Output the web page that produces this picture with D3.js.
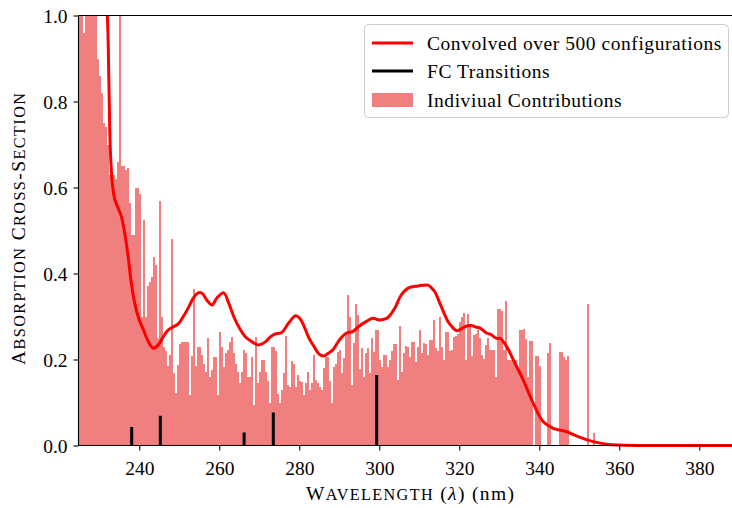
<!DOCTYPE html>
<html>
<head>
<meta charset="utf-8">
<script src="https://cdn.jsdelivr.net/npm/d3@7"></script>
<style>
  html, body { margin: 0; padding: 0; background: #fff; }
  svg { display: block; }
  text { font-family: "Liberation Serif", "DejaVu Serif", serif; fill: #000; }
</style>
</head>
<body>
<svg id="chart" width="732" height="508"></svg>
<script>
// Individual stick contributions, one per 0.5 nm bin starting at 225 nm
const barStart = 225.0;
const barStep = 0.5;
const barValues = [
  1.05, 1.05, 0.96, 1.05, 1.05, 1.05, 1.05, 1.05, 1.05, 0.90,   // 225.0 - 229.5
  0.86, 0.82, 0.75, 0.74, 0.70, 0.63, 0.63, 0.63, 0.62, 0.66,   // 230.0 - 234.5
  1.05, 0.65, 0.65, 0.64, 0.645, 0.565, 0.49, 0.49, 0.60, 0.60, // 235.0 - 239.5
  0.585, 0.30, 0.524, 0.30, 0.372, 0.38, 0.393, 0.439, 0.42, 0.25, // 240.0 - 244.5
  0.568, 0.30, 0.23, 0.22, 0.184, 0.21, 0.48, 0.168, 0.121, 0.187, // 245.0 - 249.5
  0.236, 0.24, 0.241, 0.241, 0.24, 0.117, 0.207, 0.363, 0.184, 0.23, // 250.0 - 254.5
  0.23, 0.21, 0.19, 0.17, 0.249, 0.16, 0.176, 0.206, 0.206, 0.118,  // 255.0 - 259.5
  0.263, 0.23, 0.183, 0.214, 0.222, 0.24, 0.252, 0.214, 0.19, 0.172, // 260.0 - 264.5
  0.145, 0.172, 0.222, 0.214, 0.16, 0.16, 0.205, 0.094, 0.253, 0.145, // 265.0 - 269.5
  0.172, 0.20, 0.20, 0.17, 0.15, 0.10, 0.23, 0.23, 0.22, 0.12,      // 270.0 - 274.5
  0.10, 0.13, 0.168, 0.255, 0.14, 0.137, 0.197, 0.19, 0.137, 0.164, // 275.0 - 279.5
  0.149, 0.148, 0.118, 0.145, 0.172, 0.129, 0.145, 0.21, 0.152, 0.145, // 280.0 - 284.5
  0.137, 0.13, 0.18, 0.206, 0.206, 0.15, 0.10, 0.183, 0.19, 0.218,  // 285.0 - 289.5
  0.222, 0.168, 0.203, 0.261, 0.35, 0.30, 0.14, 0.238, 0.33, 0.303, // 290.0 - 294.5
  0.177, 0.226, 0.16, 0.214, 0.226, 0.168, 0.25, 0.218, 0.268, 0.268, // 295.0 - 299.5
  0.20, 0.183, 0.21, 0.21, 0.183, 0.20, 0.22, 0.236, 0.236, 0.152,  // 300.0 - 304.5
  0.278, 0.17, 0.214, 0.231, 0.23, 0.206, 0.24, 0.24, 0.195, 0.23,  // 305.0 - 309.5
  0.268, 0.214, 0.239, 0.236, 0.21, 0.245, 0.245, 0.292, 0.226, 0.22, // 310.0 - 314.5
  0.30, 0.23, 0.20, 0.263, 0.263, 0.22, 0.222, 0.253, 0.255, 0.26,  // 315.0 - 319.5
  0.288, 0.30, 0.309, 0.20, 0.306, 0.283, 0.207, 0.257, 0.26, 0.268, // 320.0 - 324.5
  0.25, 0.21, 0.202, 0.234, 0.25, 0.222, 0.222, 0.222, 0.16, 0.317, // 325.0 - 329.5
  0.317, 0.313, 0.222, 0.335, 0.20, 0.20, 0.20, 0.20, 0.20, 0.18,   // 330.0 - 334.5
  0.268, 0.268, 0.272, 0.247, 0.16, 0.244, 0.244, 0, 0.208, 0.208,  // 335.0 - 339.5
  0.185, 0, 0, 0, 0.216, 0.238, 0, 0, 0, 0,                         // 340.0 - 344.5
  0.217, 0.217, 0.206, 0.20, 0.207, 0, 0, 0, 0, 0,                  // 345.0 - 349.5
  0, 0, 0, 0, 0.33, 0, 0, 0.029                                     // 350.0 - 353.5
];

// Convolved spectrum
const curveNm = [
  231.4, 232.0, 232.4, 232.75, 233.25, 233.85, 234.7, 235.5, 236.35, 237.2,
  238.0, 238.85, 239.7, 240.5, 241.0, 241.85, 242.7, 243.5, 244.75, 246.0,
  247.25, 248.5, 249.75, 251.0, 252.25, 253.5, 254.75, 255.7, 256.9, 258.2,
  259.4, 261.1, 262.35, 263.6, 264.85, 266.5, 268.2, 269.8, 271.5, 272.7,
  273.9, 275.6, 277.2, 279.05, 280.2, 281.2, 282.4, 283.7, 284.9, 286.05,
  287.2, 288.35, 290.0, 291.7, 293.35, 295.0, 296.7, 298.35, 300.0, 301.7,
  302.7, 303.85, 305.5, 307.2, 309.7, 312.2, 313.1, 313.85, 315.5, 317.2,
  318.2, 319.35, 321.85, 322.9, 324.35, 325.2, 326.85, 327.7, 329.35, 330.2,
  331.85, 333.5, 336.0, 338.5, 341.0, 343.5, 346.85, 350.2, 353.5, 356.85,
  360.2, 365.0, 370.0, 380.0, 390.0
];
const curveVal = [
  1.06, 1.0, 0.844, 0.69, 0.61, 0.573, 0.552, 0.533, 0.494, 0.44,
  0.378, 0.331, 0.30, 0.28, 0.27, 0.25, 0.234, 0.226, 0.234, 0.253,
  0.269, 0.276, 0.283, 0.30, 0.32, 0.343, 0.355, 0.354, 0.338, 0.327,
  0.343, 0.355, 0.331, 0.30, 0.276, 0.253, 0.241, 0.234, 0.241, 0.252,
  0.259, 0.263, 0.283, 0.302, 0.295, 0.277, 0.25, 0.23, 0.213, 0.208,
  0.214, 0.222, 0.245, 0.261, 0.265, 0.278, 0.288, 0.296, 0.292, 0.295,
  0.303, 0.319, 0.35, 0.366, 0.371, 0.373, 0.366, 0.358, 0.323, 0.288,
  0.276, 0.267, 0.278, 0.279, 0.275, 0.273, 0.261, 0.259, 0.249, 0.249,
  0.23, 0.199, 0.152, 0.098, 0.055, 0.04, 0.032, 0.019, 0.009, 0.003,
  0.001, 0.0, 0.0, 0.0, 0.0
];

// Franck-Condon transitions
const fcNm = [238.1, 245.25, 266.2, 273.5, 299.35];
const fcVal = [0.043, 0.069, 0.030, 0.077, 0.164];

const xTicks = [240, 260, 280, 300, 320, 340, 360, 380];
const yTicks = [0.0, 0.2, 0.4, 0.6, 0.8, 1.0];

const svg = d3.select("#chart");
const plotLeft = 78.5, plotTop = 15.5, plotBottom = 445.5;
const x = d3.scaleLinear().domain([224.8, 390]).range([plotLeft, plotLeft + (390 - 224.8) * 4]);
const y = d3.scaleLinear().domain([0, 1]).range([plotBottom, plotTop]);

svg.append("defs").append("clipPath").attr("id", "plotClip")
  .append("rect").attr("x", plotLeft).attr("y", plotTop)
  .attr("width", 732 - plotLeft).attr("height", plotBottom - plotTop + 10);

const plot = svg.append("g").attr("clip-path", "url(#plotClip)");

// stick contributions
plot.append("g").selectAll("rect")
  .data(barValues.map((v, i) => ({ nm: barStart + i * barStep, v })).filter(d => d.v > 0))
  .join("rect")
  .attr("x", d => x(d.nm))
  .attr("width", d => x(d.nm + barStep) - x(d.nm))
  .attr("y", d => y(d.v))
  .attr("height", d => y(0) - y(d.v))
  .attr("fill", "#f08080")
  .attr("shape-rendering", "crispEdges");

// FC transitions
plot.append("g").selectAll("line")
  .data(fcNm.map((n, i) => ({ n, v: fcVal[i] })))
  .join("line")
  .attr("x1", d => x(d.n)).attr("x2", d => x(d.n))
  .attr("y1", y(0)).attr("y2", d => y(d.v))
  .attr("stroke", "#000").attr("stroke-width", 3);

// axes
const xAxis = d3.axisBottom(x).tickValues(xTicks).tickSize(5).tickPadding(6).tickFormat(d3.format("d"));
const yAxis = d3.axisLeft(y).tickValues(yTicks).tickSize(5).tickPadding(6).tickFormat(d3.format(".1f"));

const gx = svg.append("g").attr("transform", `translate(0,${plotBottom})`).call(xAxis);
const gy = svg.append("g").attr("transform", `translate(${plotLeft},0)`).call(yAxis);
[gx, gy].forEach(g => {
  g.attr("font-family", null);
  g.select(".domain").remove();
  g.selectAll(".tick line").attr("stroke", "#000").attr("stroke-width", 1.1);
  g.selectAll(".tick text").attr("font-size", 19.5).attr("fill", "#000");
});
gx.selectAll(".tick text").attr("dy", "0.95em");
gy.selectAll(".tick text").attr("dy", "0.34em");

// spines
svg.append("line").attr("x1", plotLeft).attr("x2", 732).attr("y1", plotTop).attr("y2", plotTop)
  .attr("stroke", "#000").attr("stroke-width", 1.1);
svg.append("line").attr("x1", plotLeft).attr("x2", 732).attr("y1", plotBottom).attr("y2", plotBottom)
  .attr("stroke", "#000").attr("stroke-width", 1.1);
svg.append("line").attr("x1", plotLeft).attr("x2", plotLeft).attr("y1", plotTop).attr("y2", plotBottom)
  .attr("stroke", "#000").attr("stroke-width", 1.1);

// convolved curve
const line = d3.line().x((d, i) => x(curveNm[i])).y((d, i) => y(curveVal[i])).curve(d3.curveCatmullRom.alpha(0.5));
plot.append("path").datum(curveVal).attr("d", line)
  .attr("fill", "none").attr("stroke", "#ff0000").attr("stroke-width", 3)
  .attr("stroke-linejoin", "round");

// small-caps helper: capitals at full size, lower-case letters as reduced capitals
function smallCaps(sel, str, big, small) {
  let buf = "", isSmall = null;
  const flush = () => {
    if (buf) sel.append("tspan").attr("font-size", isSmall ? small : big).text(isSmall ? buf.toUpperCase() : buf);
    buf = "";
  };
  for (const ch of str) {
    const s = ch !== ch.toUpperCase();
    if (isSmall !== null && s !== isSmall) flush();
    isSmall = s;
    buf += ch;
  }
  flush();
}

// axis labels
const ylab = svg.append("text")
  .attr("transform", "translate(25,229) rotate(-90)")
  .attr("text-anchor", "middle")
  .attr("textLength", 272).attr("lengthAdjust", "spacing");
smallCaps(ylab, "Absorption Cross-Section", 19.5, 16.2);

const xl = svg.append("text").attr("x", 410).attr("y", 500).attr("text-anchor", "middle")
  .attr("textLength", 208).attr("lengthAdjust", "spacing");
smallCaps(xl, "Wavelength", 19.5, 16.2);
xl.append("tspan").attr("font-size", 19.5).text(" (");
xl.append("tspan").attr("font-size", 19.5).attr("font-style", "italic").text("λ");
xl.append("tspan").attr("font-size", 19.5).text(") (nm)");

// legend
const lg = svg.append("g");
lg.append("rect").attr("x", 364.5).attr("y", 24.5).attr("width", 364).attr("height", 93).attr("rx", 4)
  .attr("fill", "#fff").attr("fill-opacity", 0.8).attr("stroke", "#cccccc").attr("stroke-width", 1);
const items = [
  { label: "Convolved over 500 configurations", type: "line", color: "#ff0000", yc: 43 },
  { label: "FC Transitions", type: "line", color: "#000", yc: 71 },
  { label: "Indiviual Contributions", type: "rect", color: "#f08080", yc: 100 }
];
items.forEach(it => {
  if (it.type === "line") {
    lg.append("line").attr("x1", 372).attr("x2", 413).attr("y1", it.yc).attr("y2", it.yc)
      .attr("stroke", it.color).attr("stroke-width", 3);
  } else {
    lg.append("rect").attr("x", 372).attr("y", it.yc - 7).attr("width", 41).attr("height", 14).attr("fill", it.color);
  }
  lg.append("text").attr("x", 427).attr("y", it.yc + 6.5).attr("font-size", 19.5)
    .attr("letter-spacing", 0.55).text(it.label);
});
</script>
</body>
</html>
